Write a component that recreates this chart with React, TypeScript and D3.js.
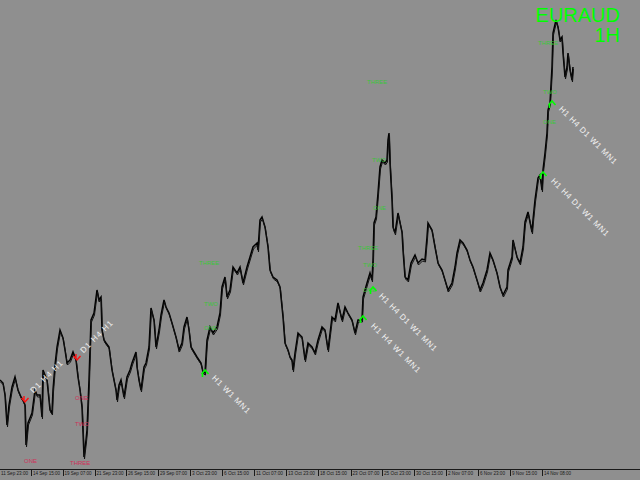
import React from 'react';
import * as d3 from 'd3';

const W = 640;
const H = 480;

// hourly bar offsets (bars since first bar) and close prices
const barHours = [0,6,10,14,18,24,30,36,42,46,50,52,56,60,64,70,74,80,84,86,90,94,100,104,106,110,114,120,126,130,134,140,146,152,156,160,164,168,172,174,178,182,188,194,198,202,204,208,212,218,224,228,232,234,238,242,248,254,260,264,272,274,278,282,288,292,298,302,308,312,318,322,328,332,338,344,352,358,364,368,374,378,382,388,394,402,406,410,414,420,426,434,440,444,450,454,460,466,474,480,486,494,500,506,514,516,520,524,530,536,540,546,554,560,566,570,576,580,584,586,590,596,604,610,616,624,630,636,644,650,656,664,670,676,684,690,696,704,710,716,724,726,730,734,740,744,746,748,752,756,760,764,770,774,776,778,780,784,786,790,796,804,806,810,816,822,830,836,844,850,854,856,864,870,876,884,890,896,904,910,914,920,926,934,940,946,954,960,966,974,980,986,994,1000,1006,1014,1016,1024,1026,1034,1040,1046,1050,1056,1064,1066,1070,1076,1080,1084,1086,1090,1094,1096,1100,1104,1106,1112,1116,1120,1124,1126,1130,1134,1136,1140,1144,1146];
const closes = [1.3160,1.3154,1.3130,1.3070,1.3110,1.3146,1.3166,1.3140,1.3126,1.3120,1.3110,1.3030,1.3074,1.3084,1.3094,1.3140,1.3130,1.3130,1.3086,1.3180,1.3170,1.3160,1.3100,1.3094,1.3140,1.3190,1.3226,1.3260,1.3244,1.3220,1.3194,1.3200,1.3216,1.3200,1.3166,1.3140,1.3106,1.3006,1.3040,1.3060,1.3160,1.3280,1.3294,1.3340,1.3320,1.3326,1.3260,1.3240,1.3234,1.3226,1.3180,1.3160,1.3140,1.3120,1.3150,1.3160,1.3126,1.3166,1.3180,1.3194,1.3216,1.3186,1.3160,1.3140,1.3186,1.3194,1.3226,1.3304,1.3280,1.3226,1.3260,1.3290,1.3320,1.3306,1.3294,1.3274,1.3246,1.3220,1.3234,1.3266,1.3286,1.3260,1.3226,1.3216,1.3206,1.3194,1.3176,1.3174,1.3240,1.3266,1.3254,1.3266,1.3294,1.3346,1.3366,1.3326,1.3340,1.3386,1.3374,1.3386,1.3354,1.3386,1.3406,1.3426,1.3434,1.3420,1.3480,1.3486,1.3466,1.3426,1.3380,1.3366,1.3360,1.3346,1.3286,1.3234,1.3220,1.3206,1.3200,1.3180,1.3214,1.3254,1.3246,1.3200,1.3234,1.3226,1.3214,1.3240,1.3266,1.3260,1.3220,1.3286,1.3280,1.3314,1.3280,1.3306,1.3294,1.3280,1.3254,1.3280,1.3280,1.3326,1.3340,1.3354,1.3374,1.3360,1.3400,1.3474,1.3486,1.3534,1.3586,1.3600,1.3594,1.3600,1.3640,1.3654,1.3594,1.3520,1.3466,1.3454,1.3494,1.3456,1.3420,1.3366,1.3360,1.3394,1.3410,1.3394,1.3402,1.3400,1.3446,1.3474,1.3460,1.3426,1.3394,1.3380,1.3360,1.3340,1.3354,1.3386,1.3414,1.3440,1.3434,1.3420,1.3400,1.3386,1.3360,1.3340,1.3354,1.3380,1.3414,1.3400,1.3374,1.3346,1.3330,1.3346,1.3380,1.3406,1.3440,1.3406,1.3394,1.3426,1.3476,1.3496,1.3456,1.3480,1.3520,1.3564,1.3570,1.3540,1.3580,1.3614,1.3654,1.3700,1.3714,1.3786,1.3854,1.3880,1.3866,1.3840,1.3846,1.3814,1.3766,1.3786,1.3814,1.3780,1.3760,1.3786];

// time axis
const tickHours = [-2,62,125,189,252,316,380,444,508,572,636,701,764,828,892,956,1020,1084];
const tickLabels = ['11 Sep 23:00','14 Sep 15:00','19 Sep 07:00','21 Sep 23:00','26 Sep 15:00','29 Sep 07:00','3 Oct 23:00','6 Oct 15:00','11 Oct 07:00','13 Oct 23:00','18 Oct 15:00','23 Oct 07:00','25 Oct 23:00','30 Oct 15:00','2 Nov 07:00','6 Nov 23:00','9 Nov 15:00','14 Nov 08:00'];

// green (buy) arrows
const upArrowHours = [410,726,746,1086,1104];
const upArrowPrices = [1.3178,1.3286,1.3344,1.3574,1.3716];
// red (sell) arrows
const downArrowHours = [50,154];
const downArrowPrices = [1.3118,1.3202];

// target labels
const levelTexts = ['THREE','TWO','ONE','THREE','TWO','ONE','THREE','TWO','ONE','THREE','TWO','ONE','ONE','THREE','ONE','TWO'];
const levelHours = [398,408,408,734,744,746,716,726,726,1076,1086,1086,48,140,150,150];
const levelPrices = [1.3394,1.3312,1.3264,1.3756,1.3600,1.3504,1.3424,1.3390,1.3340,1.3834,1.3736,1.3676,1.2998,1.2994,1.3124,1.3072];
const levelBuy = [true,true,true,true,true,true,true,true,true,true,true,true,false,false,false,false];

// timeframe confirmation notes
const tfTexts = ['H1  W1  MN1','H1  H4  D1  W1  MN1','H1  H4  W1  MN1','H1  H4  D1  W1  MN1','H1  H4  D1  W1  MN1','D1  H4  H1','D1  H4  H1'];
const tfHours = [426,760,744,1120,1104,64,164];
const tfPrices = [1.3166,1.3330,1.3270,1.3704,1.3560,1.3136,1.3216];
const tfAngles = [45,45,45,45,45,-45,-45];
const tfLengths = [50,78,66,78,78,42,42];

const x = d3.scaleLinear().domain([0, 1280]).range([0, 640]);
const y = d3.scaleLinear().domain([1.3, 1.388]).range([460, 20]);

export default function App() {
  const pts: [number, number][] = barHours.map((h, i) => [h, closes[i]]);
  const line = d3.line<[number, number]>().x(d => x(d[0])).y(d => y(d[1]));
  const path = line(pts) || '';
  const axisY = 469.5;
  return (
    <svg width={W} height={H} style={{ position: 'fixed', left: 0, top: 0 }} fontFamily="'Liberation Sans', Arial, sans-serif">
      <rect x={0} y={0} width={W} height={H} fill="#8f8f8f" />
      <path d={path} fill="none" stroke="#000" strokeWidth={1.5} strokeLinejoin="miter" />
      <path d={path} fill="none" stroke="#111" strokeWidth={1} transform="translate(0.5,2)" />
      {levelTexts.map((t, i) => (
        <text key={'l' + i} x={x(levelHours[i])} y={y(levelPrices[i])} fontSize={6} dominantBaseline="middle"
          fill={levelBuy[i] ? '#3cc43c' : '#d0305a'}>{t}</text>
      ))}
      {upArrowHours.map((h, i) => {
        const cx = x(h), cy = y(upArrowPrices[i]);
        return <path key={'u' + i} d={`M${cx - 3.5},${cy + 3} L${cx},${cy - 1} L${cx + 3.5},${cy + 3} M${cx - 2.5},${cy + 2} L${cx - 2.5},${cy + 6}`}
          fill="none" stroke="#00ff00" strokeWidth={1.6} />;
      })}
      {downArrowHours.map((h, i) => {
        const cx = x(h), cy = y(downArrowPrices[i]);
        return <path key={'d' + i} d={`M${cx - 3.5},${cy - 3} L${cx},${cy + 1} L${cx + 3.5},${cy - 3} M${cx - 1},${cy - 5} L${cx - 1},${cy}`}
          fill="none" stroke="#ff1010" strokeWidth={1.4} />;
      })}
      {tfTexts.map((t, i) => (
        <text key={'t' + i} transform={`translate(${x(tfHours[i])},${y(tfPrices[i])}) rotate(${tfAngles[i]})`}
          fontSize={8} fill="#f2f2f2" dominantBaseline="middle" textLength={tfLengths[i]} lengthAdjust="spacing">{t}</text>
      ))}
      <line x1={0} x2={W} y1={axisY} y2={axisY} stroke="#1a1a1a" strokeWidth={1} />
      {tickHours.map((h, i) => (
        <g key={'k' + i}>
          <line x1={Math.round(x(h)) + 0.5} x2={Math.round(x(h)) + 0.5} y1={axisY} y2={476} stroke="#1a1a1a" strokeWidth={1} />
          <text x={x(h) + 2} y={474} fontSize={5.2} fill="#1a1a1a" dominantBaseline="middle"
            textLength={tickLabels[i].length > 11 ? 27 : 25} lengthAdjust="spacingAndGlyphs">{tickLabels[i]}</text>
        </g>
      ))}
      <text x={620} y={22} textAnchor="end" fontSize={20} fill="#00ff00">EURAUD</text>
      <text x={620} y={42} textAnchor="end" fontSize={20} fill="#00ff00">1H</text>
    </svg>
  );
}
